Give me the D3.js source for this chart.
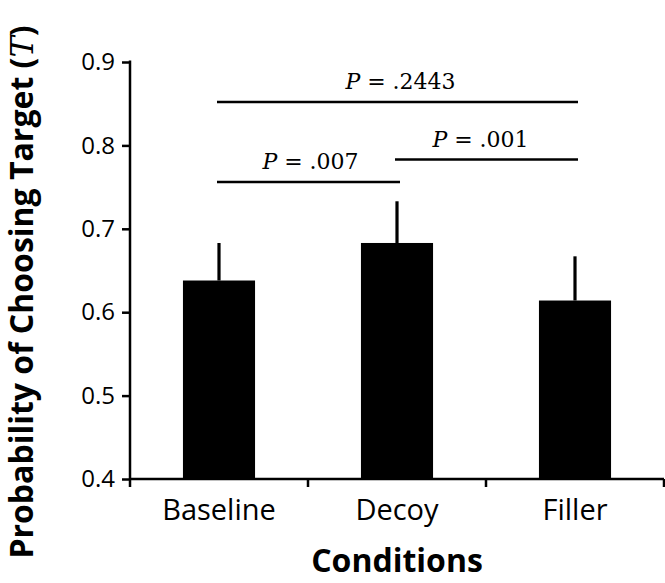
<!DOCTYPE html>
<html>
<head>
<meta charset="utf-8">
<script src="https://cdn.jsdelivr.net/npm/d3@7"></script>
<style>
  html, body { margin: 0; padding: 0; background: #fff; }
  svg { display: block; }
</style>
</head>
<body>
<svg id="chart" width="665" height="583"></svg>
<script>
// ---- data ----
const categories = ["Baseline", "Decoy", "Filler"];
const means = [0.638, 0.683, 0.614];
const errors = [0.045, 0.050, 0.053];
const yTicks = [0.4, 0.5, 0.6, 0.7, 0.8, 0.9];
const comparisons = [
  { from: "Baseline", to: "Filler", level: 0.852, label: ".2443", dx: 3 },
  { from: "Baseline", to: "Decoy", level: 0.756, label: ".007", dx: 2 },
  { from: "Decoy", to: "Filler", level: 0.783, label: ".001", dx: -6 }
];
const xTitle = "Conditions";
const yTitle = "Probability of Choosing Target ";

// ---- layout ----
const svg = d3.select("#chart");
const mLeft = 130, mRight = 664, mTop = 62, mBottom = 479;

const x = d3.scaleBand().domain(categories).range([mLeft, mRight]).padding(0);
const y = d3.scaleLinear().domain([0.4, 0.9]).range([mBottom, mTop]);
const barW = x.bandwidth() * 0.405;
const cx = c => x(c) + x.bandwidth() / 2;

// bars
svg.append("g").selectAll("rect")
  .data(categories)
  .join("rect")
  .attr("x", c => cx(c) - barW / 2)
  .attr("y", (c, i) => y(means[i]))
  .attr("width", barW)
  .attr("height", (c, i) => y(0.4) - y(means[i]))
  .attr("fill", "#000");

// error bars (upper only)
svg.append("g").selectAll("line")
  .data(categories)
  .join("line")
  .attr("x1", cx).attr("x2", cx)
  .attr("y1", (c, i) => y(means[i]))
  .attr("y2", (c, i) => y(means[i] + errors[i]))
  .attr("stroke", "#000")
  .attr("stroke-width", 3.2);

// y axis
const yAxis = d3.axisLeft(y).tickValues(yTicks).tickFormat(d3.format(".1f"))
  .tickSize(8).tickPadding(7);
const gy = svg.append("g").attr("transform", `translate(${mLeft},0)`).call(yAxis);
gy.select(".domain").remove();
gy.selectAll(".tick line").attr("stroke", "#000").attr("stroke-width", 2.5);
gy.selectAll(".tick text")
  .attr("font-family", "'Open Sans', sans-serif")
  .attr("font-size", 24)
  .attr("fill", "#000");
svg.append("line")
  .attr("x1", mLeft).attr("x2", mLeft)
  .attr("y1", y(0.9) - 1.5).attr("y2", mBottom + 8)
  .attr("stroke", "#000").attr("stroke-width", 2.5);

// x axis
const xAxis = d3.axisBottom(x).tickSize(0).tickPadding(20);
const gx = svg.append("g").attr("transform", `translate(0,${mBottom})`).call(xAxis);
gx.select(".domain").remove();
gx.selectAll(".tick text")
  .attr("font-family", "'Open Sans', sans-serif")
  .attr("font-size", 29)
  .attr("fill", "#000");
svg.append("line")
  .attr("x1", mLeft).attr("x2", mRight)
  .attr("y1", mBottom).attr("y2", mBottom)
  .attr("stroke", "#000").attr("stroke-width", 2.5);
// boundary ticks between bands
const boundaries = categories.map(c => x(c)).concat([x(categories[categories.length - 1]) + x.bandwidth()]);
svg.append("g").selectAll("line")
  .data(boundaries.slice(1))
  .join("line")
  .attr("x1", d => d).attr("x2", d => d)
  .attr("y1", mBottom).attr("y2", mBottom + 8)
  .attr("stroke", "#000").attr("stroke-width", 2.5);

// significance annotations
const sig = svg.append("g");
comparisons.forEach(cmp => {
  const x1 = cx(cmp.from) - 2, x2 = cx(cmp.to) + 3;
  const yy = y(cmp.level);
  sig.append("line")
    .attr("x1", x1).attr("x2", x2)
    .attr("y1", yy).attr("y2", yy)
    .attr("stroke", "#000").attr("stroke-width", 2.5);
  const t = sig.append("text")
    .attr("x", (x1 + x2) / 2 + cmp.dx)
    .attr("y", yy - 13)
    .attr("text-anchor", "middle")
    .attr("font-family", "'DejaVu Serif', serif")
    .attr("font-size", 22)
    .attr("fill", "#000");
  t.append("tspan").attr("font-style", "italic").text("P");
  t.append("tspan").text(" = " + cmp.label);
});

// axis titles
svg.append("text")
  .attr("x", 397).attr("y", 572)
  .attr("text-anchor", "middle")
  .attr("font-family", "'Open Sans', sans-serif")
  .attr("font-weight", "bold")
  .attr("font-size", 32)
  .attr("fill", "#000")
  .text(xTitle);

const yt = svg.append("text")
  .attr("transform", "translate(33,292) rotate(-90)")
  .attr("text-anchor", "middle")
  .attr("font-family", "'Open Sans', sans-serif")
  .attr("font-weight", "bold")
  .attr("font-size", 32)
  .attr("fill", "#000");
yt.append("tspan").text(yTitle + "(");
yt.append("tspan").attr("font-family", "'DejaVu Serif', serif").attr("font-style", "italic").attr("font-weight", "normal").text("T");
yt.append("tspan").text(")");
</script>
</body>
</html>
